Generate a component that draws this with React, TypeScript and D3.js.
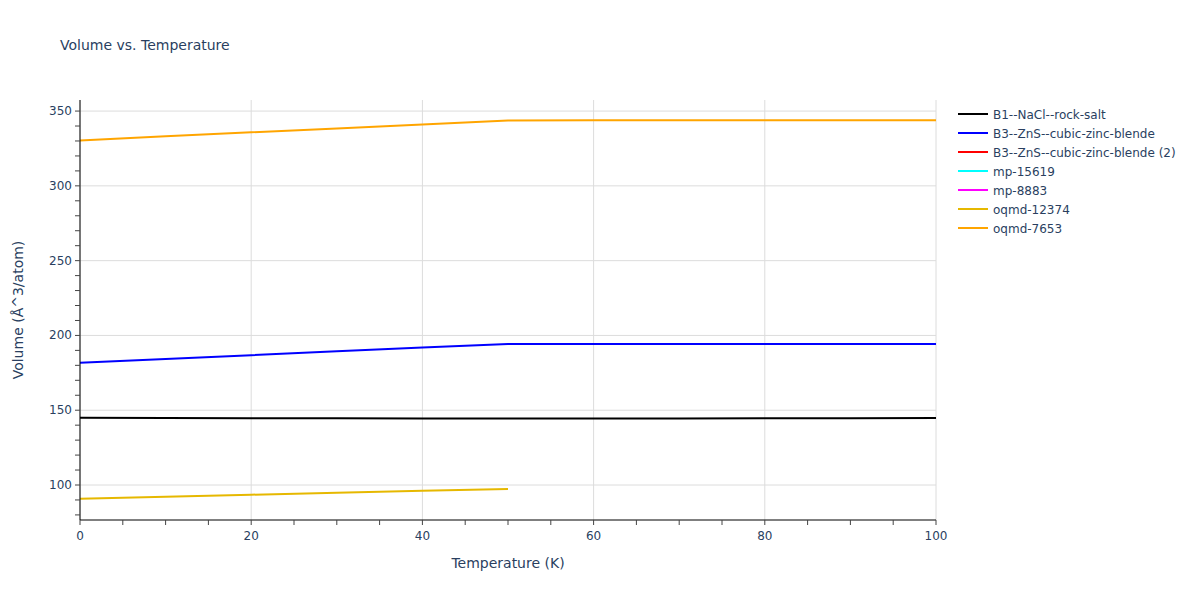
import React from "react";
import * as d3 from "d3";

const temperatures = [0, 10, 20, 30, 40, 50, 60, 70, 80, 90, 100];
const seriesNames = [
  "B1--NaCl--rock-salt",
  "B3--ZnS--cubic-zinc-blende",
  "B3--ZnS--cubic-zinc-blende (2)",
  "mp-15619",
  "mp-8883",
  "oqmd-12374",
  "oqmd-7653",
];
const seriesColors = ["#000000", "#0000ff", "#ff0000", "#00ffff", "#ff00ff", "#e6b800", "#ffa500"];
const rockSalt = [144.9, 144.8, 144.7, 144.6, 144.5, 144.4, 144.4, 144.5, 144.6, 144.7, 144.8];
const zincBlende = [181.7, 184.2, 186.8, 189.4, 191.9, 194.3, 194.3, 194.3, 194.3, 194.3, 194.3];
const zincBlende2: number[] = [];
const mp15619: number[] = [];
const mp8883: number[] = [];
const oqmd12374 = [90.8, 92.1, 93.5, 94.8, 96.2, 97.3];
const oqmd7653 = [330.4, 333.1, 335.8, 338.4, 341.1, 343.7, 343.8, 343.8, 343.8, 343.8, 343.9];
const seriesValues = [rockSalt, zincBlende, zincBlende2, mp15619, mp8883, oqmd12374, oqmd7653];
const xTicks = [0, 20, 40, 60, 80, 100];
const yTicks = [100, 150, 200, 250, 300, 350];

export default function App() {
  const W = 1200, H = 600;
  const left = 80, right = 936, top = 100, bottom = 520;
  const x = d3.scaleLinear().domain([0, 100]).range([left, right]);
  const y = d3.scaleLinear().domain([76.6, 357.4]).range([bottom, top]);
  const line = d3.line<[number, number]>().x((d) => x(d[0])).y((d) => y(d[1]));
  const font = "'DejaVu Sans', Verdana, sans-serif";
  const txt = "#2a3f5f";
  const xMinor = d3.range(0, 101, 5);
  const yMinor = d3.range(80, 351, 10);
  return (
    <svg width={W} height={H} style={{ position: "absolute", left: 0, top: 0, fontFamily: font }}>
      <rect width={W} height={H} fill="#fff" />
      <text x={60} y={50} fontSize={14} fill={txt}>Volume vs. Temperature</text>
      {xTicks.map((t) => (
        <line key={"gx" + t} x1={x(t)} x2={x(t)} y1={top} y2={bottom} stroke="#dcdcdc" strokeWidth={1} />
      ))}
      {yTicks.map((t) => (
        <line key={"gy" + t} x1={left} x2={right} y1={y(t)} y2={y(t)} stroke="#dcdcdc" strokeWidth={1} />
      ))}
      {seriesValues.map((vals, i) => {
        const pts = vals.map((v, j) => [temperatures[j], v] as [number, number]);
        if (pts.length === 0) return null;
        return <path key={"s" + i} d={line(pts) || ""} fill="none" stroke={seriesColors[i]} strokeWidth={2} />;
      })}
      <line x1={left} x2={left} y1={top} y2={bottom} stroke="#000" strokeWidth={1} />
      <line x1={left} x2={right} y1={bottom} y2={bottom} stroke="#000" strokeWidth={1} />
      {xMinor.map((t) => (
        <line key={"xt" + t} x1={x(t)} x2={x(t)} y1={bottom} y2={bottom + 5} stroke="#444" strokeWidth={1} />
      ))}
      {yMinor.map((t) => (
        <line key={"yt" + t} x1={left - 5} x2={left} y1={y(t)} y2={y(t)} stroke="#444" strokeWidth={1} />
      ))}
      {xTicks.map((t) => (
        <text key={"xl" + t} x={x(t)} y={540} fontSize={12} fill={txt} textAnchor="middle">{t}</text>
      ))}
      {yTicks.map((t) => (
        <text key={"yl" + t} x={left - 8} y={y(t) + 4} fontSize={12} fill={txt} textAnchor="end">{t}</text>
      ))}
      <text x={(left + right) / 2} y={568} fontSize={14} fill={txt} textAnchor="middle">Temperature (K)</text>
      <text transform={`translate(23,${(top + bottom) / 2}) rotate(-90)`} fontSize={14} fill={txt} textAnchor="middle">Volume (Å^3/atom)</text>
      {seriesNames.map((n, i) => (
        <g key={"lg" + i} transform={`translate(958,${114 + i * 19})`}>
          <line x1={0} x2={30} y1={0} y2={0} stroke={seriesColors[i]} strokeWidth={2} />
          <text x={35} y={4.5} fontSize={12} fill={txt}>{n}</text>
        </g>
      ))}
    </svg>
  );
}
